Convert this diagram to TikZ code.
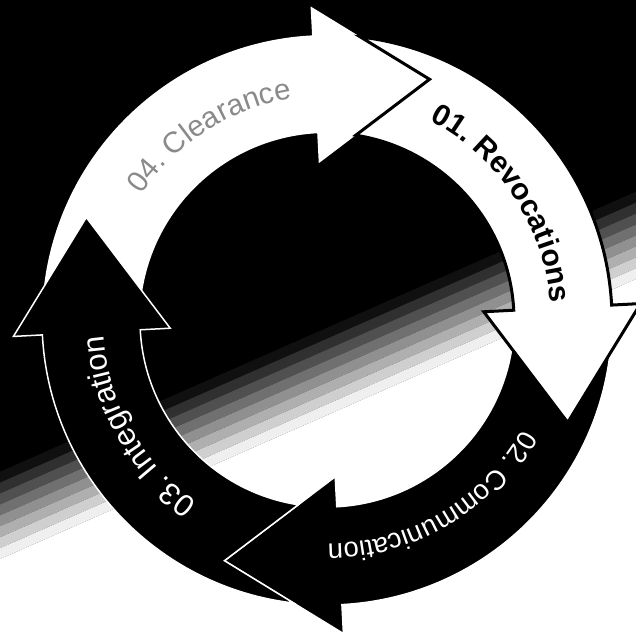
\documentclass[tikz,border=0pt]{standalone}
\usepackage{fontspec}
\setmainfont{Liberation Sans}
\usepackage{tikz}
\usetikzlibrary{decorations.text}
\definecolor{cInk}{HTML}{000000}
\definecolor{cPaper}{HTML}{FFFFFF}
\definecolor{cGhost}{HTML}{8A8A8A}
\tikzset{
  whitearrow/.style={fill=cPaper},
  outlinearrow/.style={fill=cPaper,draw=cInk,line width=3pt},
  blackarrow/.style={fill=cInk,draw=cPaper,line width=1.5pt},
  ringtext/.style={decorate,decoration={text along path,text align=center,text color=#1}}
}
% one ring arrow: notch at 90, head base at 0, then turned
\newcommand{\cycarrow}[2]{%
  \path[#1,rotate=#2] (80.26:285) arc[start angle=80.26,end angle=0,radius=285]
    -- (314,0) -- (235,-115) -- (157,0) -- (187,0)
    arc[start angle=0,end angle=78.15,radius=187] -- (115,235) -- cycle;}

\begin{document}
\begin{tikzpicture}[x=1pt,y=1pt]
    \useasboundingbox (-327,-316) rectangle (309,320);
    \clip (-327,-316) rectangle (309,320);

    % Background
    \fill[cInk] (-327,-316) rectangle (309,320);
    \begin{scope}[shift={(0,-46)},rotate=23.76]
      \foreach \k in {0,...,7} {
        \pgfmathsetmacro\p{(\k+0.5)*12.5}
        \fill[cPaper!\p!cInk] (-700,35-\k*10) rectangle (700,25-\k*10);
      }
      \fill[cPaper] (-700,-45) rectangle (700,-700);
    \end{scope}

    % Arrows
    \cycarrow{blackarrow}{-87}
    \cycarrow{blackarrow}{183}
    \cycarrow{whitearrow}{93}
    \cycarrow{outlinearrow}{3}

    % Labels
    \path[ringtext=cInk,decoration={text={|\fontsize{30}{36}\selectfont\bfseries|01. Revocations}}]
      (73.5:224) arc[start angle=73.5,end angle=-6.5,radius=224];
    \path[ringtext=cPaper,decoration={text={|\fontsize{27.5}{33}\selectfont|02. Communication}}]
      (-19.5:224) arc[start angle=-19.5,end angle=-99.5,radius=224];
    \path[ringtext=cPaper,decoration={text={|\fontsize{31}{37}\selectfont|03. Integration}}]
      (249.3:224) arc[start angle=249.3,end angle=169.3,radius=224];
    \path[ringtext=cGhost,decoration={text={|\fontsize{29.5}{35}\selectfont|04. Clearance}}]
      (162.5:224) arc[start angle=162.5,end angle=82.5,radius=224];
  \end{tikzpicture}
\end{document}
